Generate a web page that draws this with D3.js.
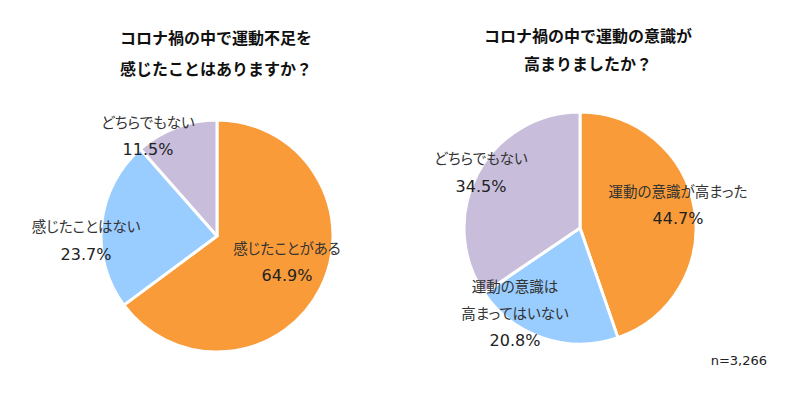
<!DOCTYPE html>
<meta charset="utf-8">
<style>
  body { margin: 0; background: #fff; }
  .title { font-family: "Noto Sans CJK JP", sans-serif; font-weight: bold; font-size: 16px; fill: #111; }
  .lab { font-family: "Noto Sans CJK JP", sans-serif; font-size: 14.5px; fill: #333; font-feature-settings: "palt"; }
  .pct { font-family: "DejaVu Sans", sans-serif; font-size: 16px; fill: #222; }
  .note { font-family: "DejaVu Sans", sans-serif; font-size: 13px; fill: #222; }
</style>
<body></body>
<script src="https://d3js.org/d3.v7.min.js"></script>
<script>
// chart 1: 運動不足を感じたか
var labels1 = ["感じたことがある", "感じたことはない", "どちらでもない"];
var values1 = [64.9, 23.7, 11.5];
// chart 2: 運動の意識が高まったか
var labels2 = ["運動の意識が高まった", "運動の意識は\n高まってはいない", "どちらでもない"];
var values2 = [44.7, 20.8, 34.5];
var colors = ["#F99B38", "#99CCFF", "#C8BEDC"];

var width = 800, height = 399;

var svg = d3.select("body").append("svg")
    .attr("width", width)
    .attr("height", height);

// each pie: center, title lines and where its labels sit
var pies = [
  { labels: labels1, values: values1, cx: 217, cy: 236, r: 116,
    title: ["コロナ禍の中で運動不足を", "感じたことはありますか？"], tx: 216, ty: 37, tgap: 31,
    labelPos: [[287, 247, 275], [86, 225, 254], [148, 121, 149]] },
  { labels: labels2, values: values2, cx: 580, cy: 228, r: 116,
    title: ["コロナ禍の中で運動の意識が", "高まりましたか？"], tx: 588, ty: 35, tgap: 28,
    labelPos: [[678, 190, 218], [515, 285, 340], [481, 157, 186]] }
];

var pie = d3.pie().sort(null).value(function(d) { return d; });

pies.forEach(function(p) {
  var g = svg.append("g").attr("transform", "translate(" + p.cx + "," + p.cy + ")");
  var arc = d3.arc().innerRadius(0).outerRadius(p.r);

  g.selectAll("path")
    .data(pie(p.values))
    .enter().append("path")
    .attr("d", arc)
    .attr("fill", function(d, i) { return colors[i]; })
    .attr("stroke", "#fff")
    .attr("stroke-width", 3)
    .attr("stroke-linejoin", "round");

  p.title.forEach(function(t, i) {
    svg.append("text")
      .attr("class", "title")
      .attr("x", p.tx)
      .attr("y", p.ty + i * p.tgap)
      .attr("text-anchor", "middle")
      .attr("dominant-baseline", "central")
      .text(t);
  });

  p.labels.forEach(function(l, i) {
    var pos = p.labelPos[i];
    var lines = l.split("\n");
    lines.forEach(function(line, j) {
      svg.append("text")
        .attr("class", "lab")
        .attr("x", pos[0])
        .attr("y", pos[1] + j * 27)
        .attr("text-anchor", "middle")
        .attr("dominant-baseline", "central")
        .text(line);
    });
    svg.append("text")
      .attr("class", "pct")
      .attr("x", pos[0])
      .attr("y", pos[2])
      .attr("text-anchor", "middle")
      .attr("dominant-baseline", "central")
      .text(p.values[i].toFixed(1) + "%");
  });
});

svg.append("text")
  .attr("class", "note")
  .attr("x", 767)
  .attr("y", 360)
  .attr("text-anchor", "end")
  .attr("dominant-baseline", "central")
  .text("n=3,266");
</script>
